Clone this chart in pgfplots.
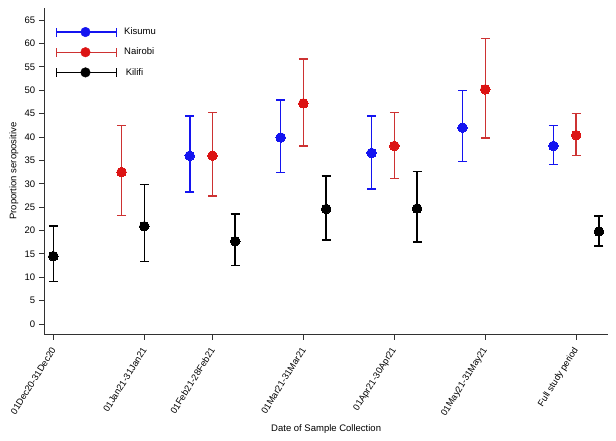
\documentclass[border=0pt]{standalone}
\usepackage{fontspec}
\setmainfont{Liberation Sans}
\usepackage{pgfplots}
\usepackage{pgfplotstable}
\pgfplotsset{compat=1.18}
\definecolor{kblue}{RGB}{20,20,240}
\definecolor{nred}{RGB}{220,20,20}
\definecolor{nbar}{RGB}{205,50,50}
\definecolor{kblack}{RGB}{0,0,0}
\definecolor{axgray}{RGB}{50,50,50}

% x = 4*group + series (Kisumu 0, Nairobi 1, Kilifi 2)
\pgfplotstableread{
x  y    ep   em
8  36.0 8.5  7.8
12 39.9 8.0  7.5
16 36.6 7.9  7.7
20 42.0 8.0  7.3
24 38.1 4.3  4.0
}\kisumu
\pgfplotstableread{
x  y    ep   em
5  32.5 10.0 9.3
9  36.0 9.3  8.6
13 47.2 9.5  9.1
17 38.1 7.2  7.0
21 50.2 10.9 10.4
25 40.4 4.6  4.3
}\nairobi
\pgfplotstableread{
x  y    ep   em
2  14.5 6.5  5.4
6  20.9 9.0  7.5
10 17.7 5.8  5.2
14 24.6 7.1  6.6
18 24.7 7.9  7.2
26 19.8 3.3  3.1
}\kilifi

\pgfplotsset{
  errplot/.style 2 args={only marks, mark=*, mark size=4.8pt, color=#1,
    mark options={fill=#1, draw=#1, line width=0pt},
    error bars/y dir=both, error bars/y explicit,
    error bars/error bar style={color=#2, line width=1.5pt},
    error bars/error mark options={rotate=90, mark size=4.5pt, line width=1.4pt, color=#2},
    legend image code/.code={
      \draw[#2, line width=1.4pt] (0pt,0pt) -- (60pt,0pt) (0pt,-4.5pt) -- (0pt,4.5pt) (60pt,-4.5pt) -- (60pt,4.5pt);
      \fill[#1] (29pt,0pt) circle (4.8pt);
    }
  }
}

\begin{document}
\begin{tikzpicture}
\begin{axis}[
  width=563.7pt, height=326pt, scale only axis,
  xmin=1.6, xmax=26.4, ymin=-2.14, ymax=67.6,
  axis x line*=bottom, axis y line*=left,
  xtick={2,6,9,13,17,21,25},
  xticklabels={01Dec20-31Dec20,01Jan21-31Jan21,01Feb21-28Feb21,01Mar21-31Mar21,01Apr21-30Apr21,01May21-31May21,Full study period},
  ytick={0,5,...,65},
  tick align=outside, major tick length=5.5pt,
  tick style={line width=0.8pt, color=axgray},
  axis line style={line width=0.8pt, color=axgray},
  tick label style={font=\fontsize{9.5}{11.4}\selectfont},
  xticklabel style={font=\fontsize{9.2}{11}\selectfont, yshift=-6pt, xshift=2pt, rotate=58, anchor=east},
  label style={font=\fontsize{9.5}{11.4}\selectfont},
  xlabel={Date of Sample Collection},
  ylabel={Proportion seropositive},
  x label style={at={(axis description cs:0.5,-0.292)}, anchor=center},
  y label style={at={(axis description cs:-0.0538,0.5)}, anchor=center},
  clip=false,
  /pgf/number format/assume math mode=true,
  legend cell align=left,
  legend style={draw=none, fill=none, font=\fontsize{9.5}{11.4}\selectfont,
    at={(axis description cs:0.0147,0.952)}, anchor=north west, row sep=7.8pt, column sep=5pt},
]
\addplot[errplot={kblue}{kblue}] table[x=x, y=y, y error plus=ep, y error minus=em]{\kisumu};
\addlegendentry{Kisumu}
\addplot[errplot={nred}{nbar}] table[x=x, y=y, y error plus=ep, y error minus=em]{\nairobi};
\addlegendentry{Nairobi}
\addplot[errplot={kblack}{kblack}] table[x=x, y=y, y error plus=ep, y error minus=em]{\kilifi};
\addlegendentry{\,Kilifi}
\end{axis}
\path (current axis.south west) ++(-44.3pt,-106pt) rectangle ++(616pt,440pt);
\end{tikzpicture}
\end{document}
